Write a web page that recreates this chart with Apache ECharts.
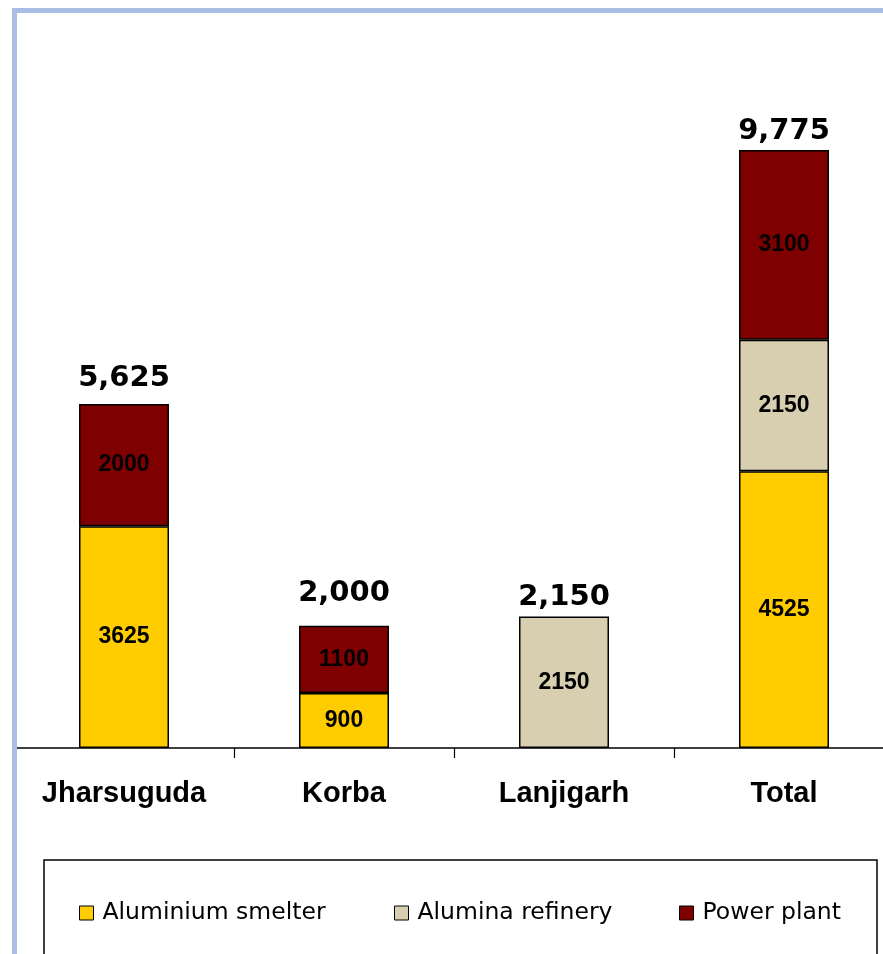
<!DOCTYPE html>
<html><head><meta charset="utf-8">
<script src="https://cdn.jsdelivr.net/npm/echarts@6/dist/echarts.min.js"></script>
<style>html,body{margin:0;padding:0;background:#fff}#c{width:883px;height:954px}</style>
</head><body><div id="c"></div>
<script>
const categories = ['Jharsuguda', 'Korba', 'Lanjigarh', 'Total'];
const smelter = [3625, 900, null, 4525];
const refinery = [null, null, 2150, 2150];
const power = [2000, 1100, null, 3100];
const seriesNames = ['Aluminium smelter', 'Alumina refinery', 'Power plant'];
const colors = ['#FFCC00', '#D8CFB0', '#7F0000'];
const totals = categories.map((c, i) => (smelter[i] || 0) + (refinery[i] || 0) + (power[i] || 0));
const totalLabelGap = [11, 18, 5, 4];

const chart = echarts.init(document.getElementById('c'), null, {renderer: 'canvas'});
const inner = {show: true, position: 'inside', color: '#000', fontFamily: 'Liberation Sans, Arial', fontWeight: 'bold', fontSize: 23};
function barSeries(name, data, color) {
  return {name, type: 'bar', stack: 's', data, barWidth: 90,
    itemStyle: {color, borderColor: '#000', borderWidth: 1.5},
    label: inner, emphasis: {disabled: true}};
}
const legendBase = (name, left) => ({
  data: [name], left, top: 901, padding: 0, itemWidth: 14, itemHeight: 14, selectedMode: false,
  icon: 'rect',
  itemStyle: {borderColor: '#000', borderWidth: 1},
  textStyle: {fontFamily: 'DejaVu Sans', fontSize: 23.5, color: '#000', padding: [0, 0, 0, 4]}
});
chart.setOption({
  animation: false,
  grid: {left: 14, width: 880, top: 14, bottom: 206, containLabel: false, outerBoundsMode: 'none'},
  xAxis: {type: 'category', data: categories,
    axisLine: {lineStyle: {color: '#000', width: 1.5}},
    axisTick: {show: true, length: 10, lineStyle: {color: '#000', width: 1.2}},
    axisLabel: {color: '#000', fontFamily: 'Liberation Sans, Arial', fontWeight: 'bold', fontSize: 29, margin: 31, lineHeight: 29, interval: 0}
  },
  yAxis: {type: 'value', min: 0, max: 12000, show: false, splitLine: {show: false}},
  legend: [legendBase(seriesNames[0], 79), legendBase(seriesNames[1], 394), legendBase(seriesNames[2], 679)],
  graphic: [
    {type: 'rect', shape: {x: 12, y: 8, width: 5, height: 960}, style: {fill: '#A9BDE5'}, z: 10},
    {type: 'rect', shape: {x: 12, y: 8, width: 890, height: 5}, style: {fill: '#A9BDE5'}, z: 10},
    {type: 'rect', shape: {x: 44, y: 860, width: 833, height: 120}, style: {fill: 'none', stroke: '#000', lineWidth: 1.5}, z: 0}
  ],
  series: [
    barSeries(seriesNames[0], smelter, colors[0]),
    barSeries(seriesNames[1], refinery, colors[1]),
    barSeries(seriesNames[2], power, colors[2]),
    {name: 'totals', type: 'scatter', symbolSize: 0, silent: true,
      data: totals.map((v, i) => ({value: v, label: {distance: totalLabelGap[i]}})),
      itemStyle: {opacity: 1},
      label: {show: true, position: 'top', distance: 5, color: '#000', opacity: 1, fontFamily: 'DejaVu Sans', fontWeight: 'bold', fontSize: 29,
        formatter: p => p.value.toLocaleString('en-US')}}
  ]
});
</script></body></html>
